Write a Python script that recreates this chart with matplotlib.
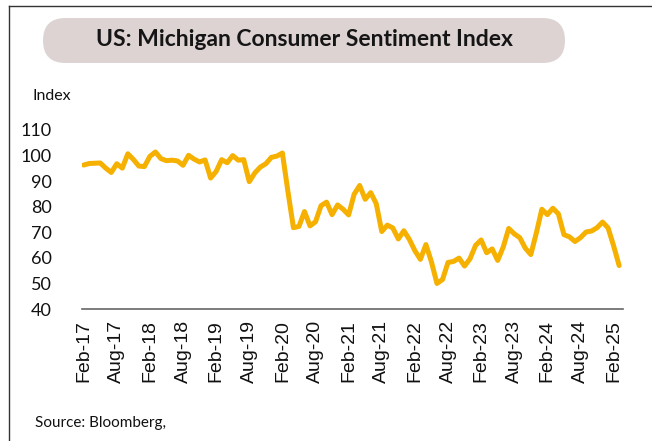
import numpy as np
import matplotlib.pyplot as plt
from matplotlib.patches import FancyBboxPatch
from matplotlib.lines import Line2D

# monthly index values, Feb-17 .. Mar-25
y2017 = [96.3, 96.9, 97.0, 97.1, 95.1, 93.4, 96.8, 95.1, 100.7, 98.5, 95.9]
y2018 = [95.7, 99.7, 101.4, 98.8, 98.0, 98.2, 97.9, 96.2, 100.1, 98.6, 97.5, 98.3]
y2019 = [91.2, 93.8, 98.4, 97.2, 100.0, 98.2, 98.4, 89.8, 93.2, 95.5, 96.8, 99.3]
y2020 = [99.8, 101.0, 86.0, 71.8, 72.3, 78.1, 72.5, 74.1, 80.4, 81.8, 76.9, 80.7]
y2021 = [79.0, 76.8, 84.9, 88.3, 82.9, 85.5, 81.2, 70.3, 72.8, 71.7, 67.4, 70.6]
y2022 = [67.2, 62.8, 59.4, 65.2, 58.4, 50.0, 51.5, 58.2, 58.6, 59.9, 56.8, 59.7]
y2023 = [64.9, 67.0, 62.0, 63.5, 59.0, 64.2, 71.5, 69.4, 67.9, 63.8, 61.3, 69.7]
y2024 = [79.0, 76.9, 79.4, 77.2, 69.1, 68.2, 66.4, 67.9, 70.1, 70.5, 71.8, 74.0]
y2025 = [71.7, 64.7, 57.0]
values = y2017 + y2018 + y2019 + y2020 + y2021 + y2022 + y2023 + y2024 + y2025

tick_labels = ['Feb-17', 'Aug-17', 'Feb-18', 'Aug-18', 'Feb-19', 'Aug-19',
               'Feb-20', 'Aug-20', 'Feb-21', 'Aug-21', 'Feb-22', 'Aug-22',
               'Feb-23', 'Aug-23', 'Feb-24', 'Aug-24', 'Feb-25']
yticks = [40, 50, 60, 70, 80, 90, 100, 110]

plt.rcParams['font.family'] = ['Lato', 'DejaVu Sans']

fig = plt.figure(figsize=(6.52, 4.41), dpi=100)
W, H = 652, 441
ax = fig.add_axes([82 / W, 1 - 309 / H, (623 - 82) / W, (309 - 130) / H])

x = np.arange(len(values))
ax.plot(x, values, color='#F5B000', lw=3.6, solid_joinstyle='round',
        solid_capstyle='round')
ax.set_xlim(-0.3, len(values) - 0.3)
ax.set_ylim(40, 110)
ax.set_yticks(yticks)
ax.set_yticklabels([str(v) for v in yticks], fontsize=13, color='#111111')
ax.set_xticks(np.arange(0, len(values), 6))
ax.set_xticklabels(tick_labels, rotation=90, fontsize=14,
                   family=['Liberation Sans', 'DejaVu Sans'], color='#111111')
ax.tick_params(axis='both', length=0)
ax.tick_params(axis='y', pad=22)
ax.tick_params(axis='x', pad=8)
for s in ['top', 'right', 'left']:
    ax.spines[s].set_visible(False)
ax.spines['bottom'].set_color('#666666')
ax.spines['bottom'].set_linewidth(1.2)
ax.spines['bottom'].set_clip_on(False)

# title pill, in inches so the ends stay round
box = FancyBboxPatch((0.43, 4.41 - 0.63), 5.22, 0.45,
                     boxstyle='round,pad=0,rounding_size=0.225',
                     transform=fig.dpi_scale_trans, facecolor='#DDD3D3',
                     edgecolor='none')
fig.patches.append(box)
fig.text(304 / W, 1 - 40 / H, 'US: Michigan Consumer Sentiment Index',
         fontsize=16.5, fontweight='bold', ha='center', va='center', color='#151515')

fig.text(33 / W, 1 - 96 / H, 'Index', fontsize=11.5, ha='left', va='center',
         color='#111111')
fig.text(35 / W, 1 - 423 / H, 'Source: Bloomberg,', fontsize=11, ha='left',
         va='center', color='#111111')

# outer frame lines
fig.lines.append(Line2D([9 / W, 9 / W], [0, 1 - 6 / H], transform=fig.transFigure,
                        color='#333333', lw=1))
fig.lines.append(Line2D([9 / W, 1], [1 - 6 / H, 1 - 6 / H], transform=fig.transFigure,
                        color='#333333', lw=1))

fig.savefig('out.png', dpi=100)
